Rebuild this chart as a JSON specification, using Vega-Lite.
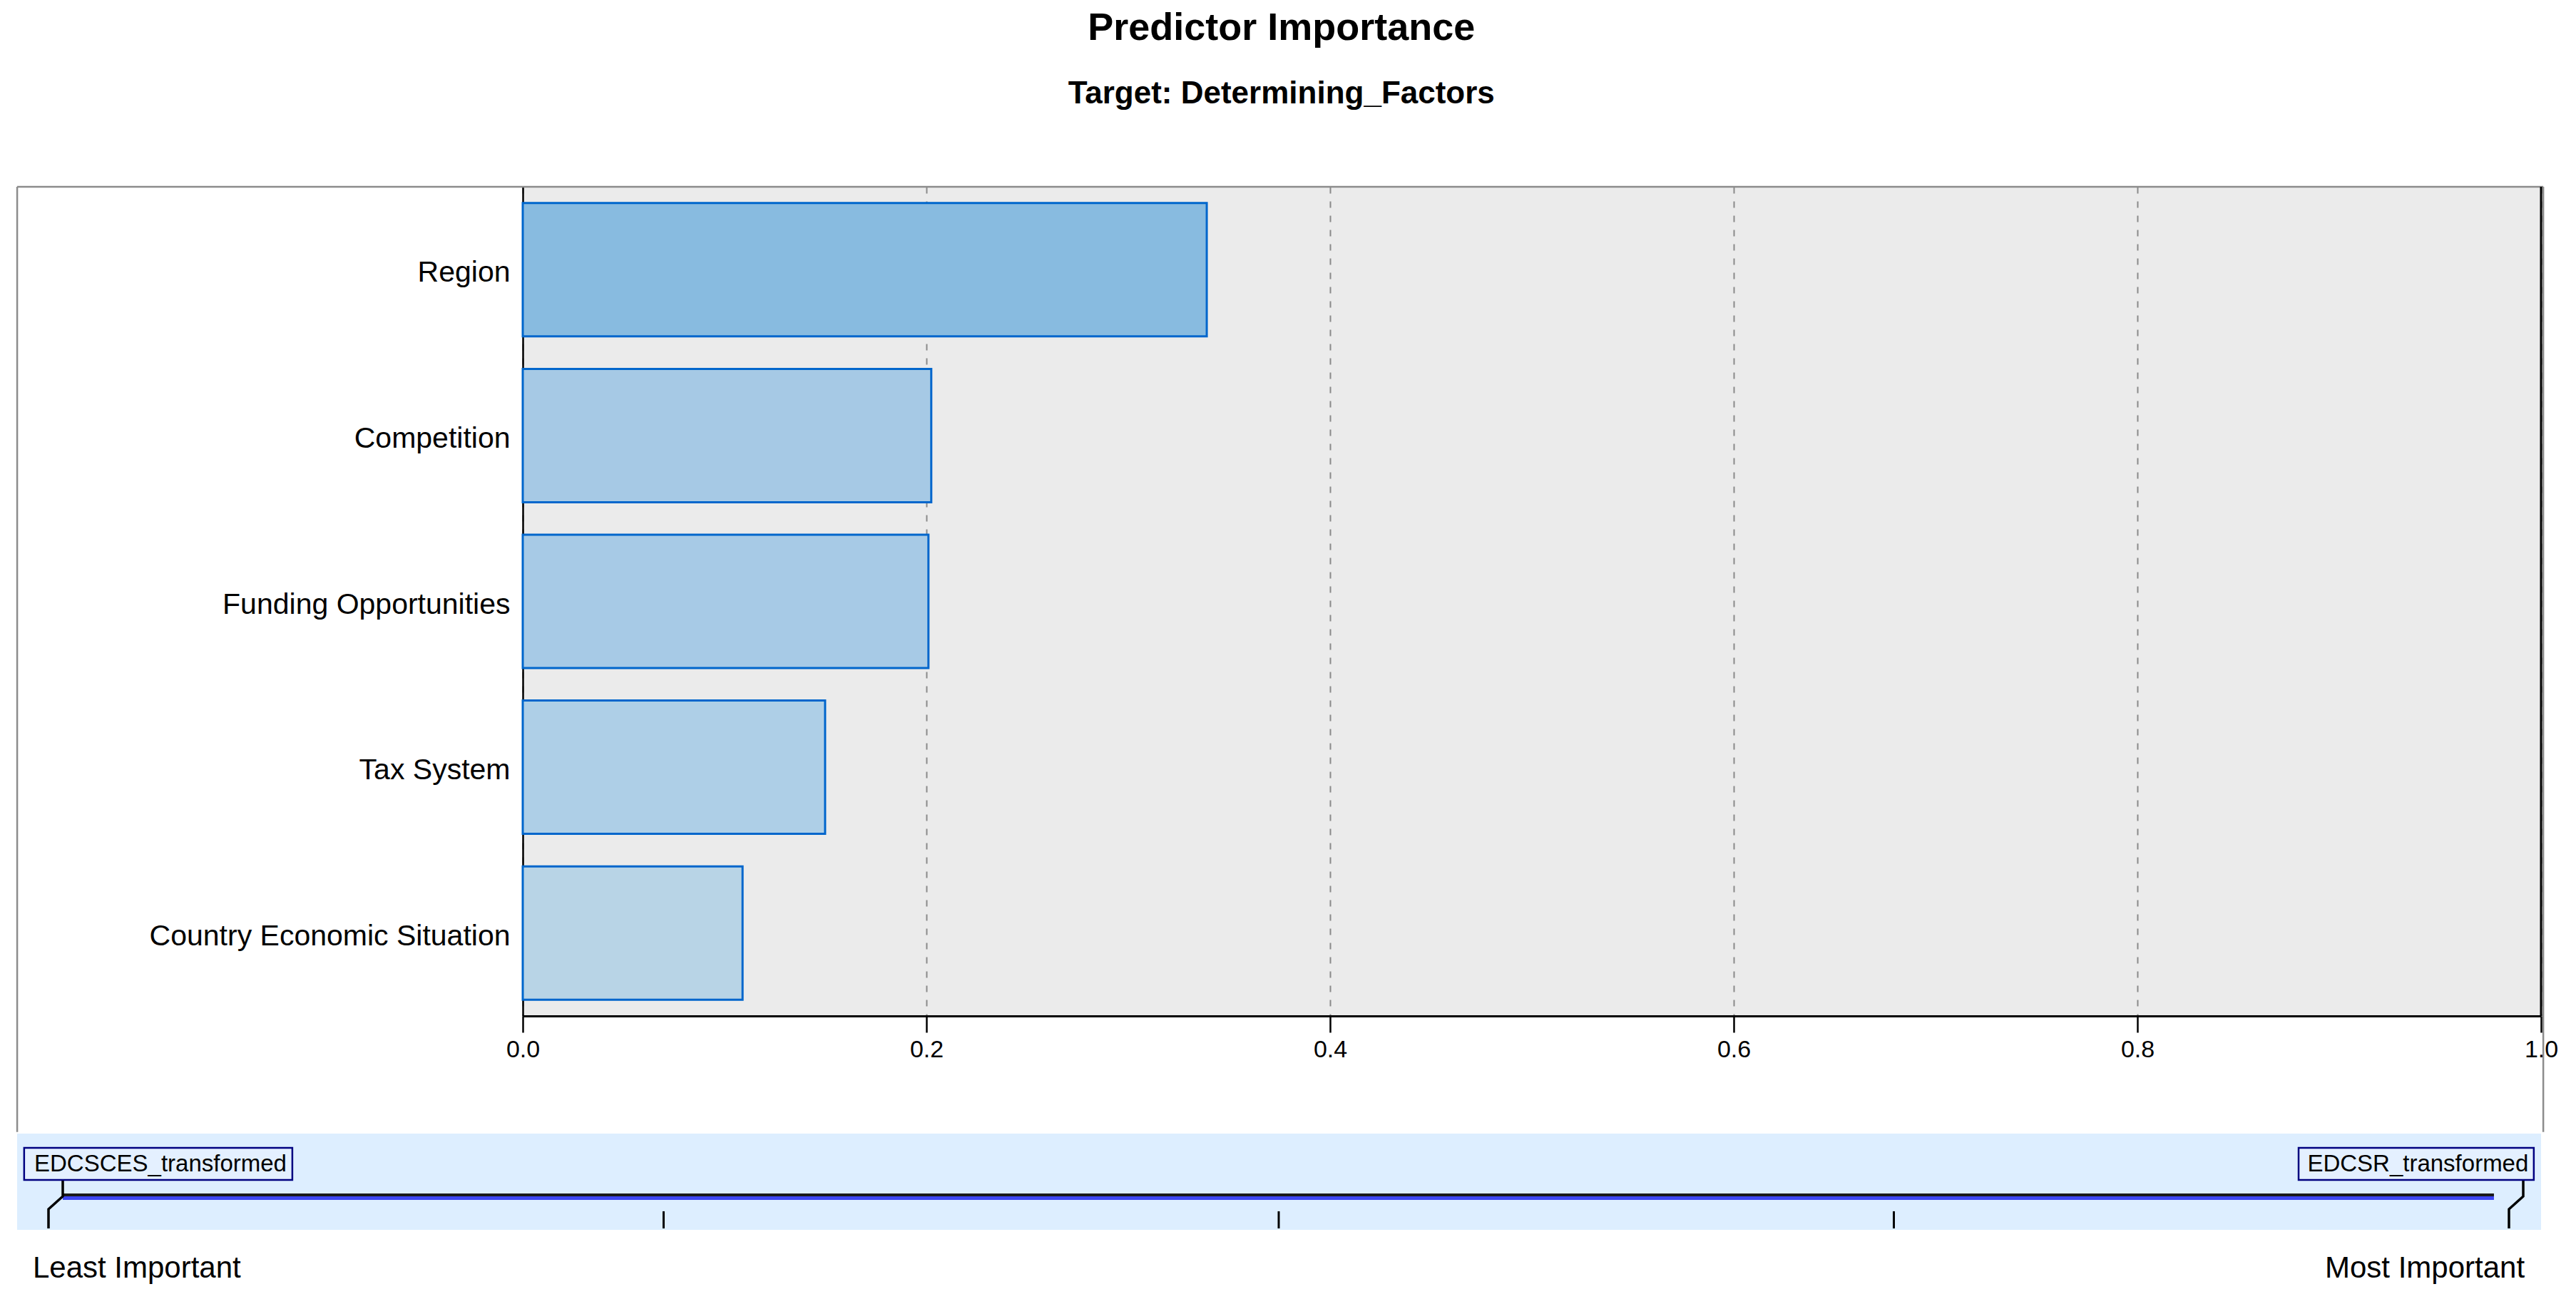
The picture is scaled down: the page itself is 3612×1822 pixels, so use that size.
{
  "$schema": "https://vega.github.io/schema/vega-lite/v6.json",
  "autosize": {"type": "pad"},
  "padding": {"left": 22, "top": 12, "right": 20, "bottom": 20},
  "background": "white",
  "config": {"font": "Liberation Sans", "view": {"stroke": null}},
  "title": {
    "text": "Predictor Importance",
    "subtitle": "Target: Determining_Factors",
    "anchor": "middle",
    "frame": "bounds",
    "dx": -8,
    "font": "Liberation Sans",
    "fontSize": 54,
    "fontWeight": "bold",
    "color": "black",
    "subtitleFont": "Liberation Sans",
    "subtitleFontSize": 44,
    "subtitleFontWeight": "bold",
    "subtitleColor": "black",
    "subtitlePadding": 43,
    "offset": 107
  },
  "spacing": 0,
  "datasets": {
    "importance": [
      {"predictor": "Region", "importance": 0.3389},
      {"predictor": "Competition", "importance": 0.2024},
      {"predictor": "Funding Opportunities", "importance": 0.2010},
      {"predictor": "Tax System", "importance": 0.1498},
      {"predictor": "Country Economic Situation", "importance": 0.1089}
    ],
    "frame": [
      {"x": -0.2505, "x2": 1.0011, "y": 1, "y2": 1},
      {"x": -0.2505, "x2": -0.2505, "y": 1, "y2": -0.14},
      {"x": 1.0011, "x2": 1.0011, "y": 1, "y2": -0.14}
    ],
    "connectors": [
      {"side": "L", "k": 0, "x": 0.0058, "y": 0.511},
      {"side": "L", "k": 1, "x": 0.0058, "y": 0.348},
      {"side": "L", "k": 2, "x": 0.0, "y": 0.215},
      {"side": "L", "k": 3, "x": 0.0, "y": 0.015},
      {"side": "R", "k": 0, "x": 1.0058, "y": 0.511},
      {"side": "R", "k": 1, "x": 1.0058, "y": 0.348},
      {"side": "R", "k": 2, "x": 1.0, "y": 0.215},
      {"side": "R", "k": 3, "x": 1.0, "y": 0.015}
    ],
    "boxes": [
      {"name": "EDCSCES_transformed", "x0": -0.0099, "x1": 0.0991, "tx": 0.0455},
      {"name": "EDCSR_transformed", "x0": 0.9145, "x1": 1.0101, "tx": 0.963}
    ]
  },
  "vconcat": [
    {
      "width": 2830,
      "height": 1163,
      "view": {"fill": "#EBEBEB", "stroke": null},
      "layer": [
        {
          "data": {"name": "frame"},
          "mark": {"type": "rule", "color": "#8c8c8c", "strokeWidth": 2.5},
          "encoding": {
            "x": {"field": "x", "type": "quantitative", "scale": {"domain": [0, 1], "nice": false, "zero": false},
              "axis": {"title": null, "values": [0, 0.2, 0.4, 0.6, 0.8, 1], "format": ".1f", "labelFontSize": 34, "labelColor": "black", "labelPadding": 7, "labelFlush": false, "tickSize": 23, "tickColor": "black", "tickWidth": 2.5, "domainColor": "black", "domainWidth": 3, "grid": true, "gridColor": "#8a8a8a", "gridWidth": 2, "gridDash": [9, 11]}},
            "x2": {"field": "x2"},
            "y": {"field": "y", "type": "quantitative", "scale": {"domain": [0, 1], "nice": false, "zero": false}, "axis": null},
            "y2": {"field": "y2"}
          }
        },
        {
          "data": {"name": "importance"},
          "mark": {"type": "bar", "stroke": "#0066CC", "strokeWidth": 3},
          "encoding": {
            "y": {"field": "predictor", "type": "nominal", "sort": "-x",
              "scale": {"paddingInner": 0.196, "paddingOuter": 0.098},
              "axis": {"title": null, "labelFontSize": 41, "labelColor": "black", "labelPadding": 18, "labelOffset": 5, "labelLimit": 1000, "ticks": false, "domain": true, "domainColor": "black", "domainWidth": 2.5, "grid": false}},
            "x": {"field": "importance", "type": "quantitative", "scale": {"domain": [0, 1], "nice": false, "zero": false},
              "axis": {"title": null, "values": [0, 0.2, 0.4, 0.6, 0.8, 1], "format": ".1f", "labelFontSize": 34, "labelColor": "black", "labelPadding": 7, "labelFlush": false, "tickSize": 23, "tickColor": "black", "tickWidth": 2.5, "domainColor": "black", "domainWidth": 3, "grid": true, "gridColor": "#8a8a8a", "gridWidth": 2, "gridDash": [9, 11]}},
            "color": {"field": "predictor", "type": "nominal", "legend": null,
              "scale": {"domain": ["Region", "Competition", "Funding Opportunities", "Tax System", "Country Economic Situation"],
                "range": ["#88BBE0", "#A6C9E5", "#A7CAE6", "#AECFE7", "#B8D4E6"]}}
          }
        },
        {
          "data": {"values": [{"edge": 1}]},
          "mark": {"type": "rule", "color": "black", "strokeWidth": 3},
          "encoding": {"x": {"field": "edge", "type": "quantitative"}}
        }
      ],
      "resolve": {"scale": {"y": "independent"}, "axis": {"y": "independent"}}
    },
    {
      "width": 2830,
      "height": 135,
      "view": {"fill": null, "stroke": null},
      "layer": [
        {
          "data": {"values": [{"from": -0.01275, "to": 1.01304}]},
          "mark": {"type": "rect", "color": "#DDEEFF"},
          "encoding": {
            "x": {"field": "from", "type": "quantitative", "scale": {"domain": [0, 1], "range": [-665, 2785], "nice": false, "zero": false}, "axis": null},
            "x2": {"field": "to"},
            "y": {"datum": 0, "type": "quantitative", "scale": {"domain": [0, 1], "nice": false, "zero": false}, "axis": null},
            "y2": {"datum": 1}
          }
        },
        {
          "data": {"values": [{"from": 0.0058, "to": 0.9939, "level": 0.363}]},
          "mark": {"type": "rule", "color": "#1a1a1a", "strokeWidth": 4},
          "encoding": {
            "x": {"field": "from", "type": "quantitative"},
            "x2": {"field": "to"},
            "y": {"field": "level", "type": "quantitative"}
          }
        },
        {
          "data": {"values": [{"from": 0.0058, "to": 0.9939, "level": 0.3296}]},
          "mark": {"type": "rule", "color": "#3d46f2", "strokeWidth": 5},
          "encoding": {
            "x": {"field": "from", "type": "quantitative"},
            "x2": {"field": "to"},
            "y": {"field": "level", "type": "quantitative"}
          }
        },
        {
          "data": {"values": [{"pos": 0.25}, {"pos": 0.5}, {"pos": 0.75}]},
          "mark": {"type": "rule", "color": "black", "strokeWidth": 3},
          "encoding": {
            "x": {"field": "pos", "type": "quantitative"},
            "y": {"datum": 0.193, "type": "quantitative"},
            "y2": {"datum": 0.015}
          }
        },
        {
          "data": {"name": "connectors"},
          "mark": {"type": "line", "color": "black", "strokeWidth": 3.5},
          "encoding": {
            "x": {"field": "x", "type": "quantitative"},
            "y": {"field": "y", "type": "quantitative"},
            "detail": {"field": "side", "type": "nominal"},
            "order": {"field": "k", "type": "quantitative"}
          }
        },
        {
          "data": {"name": "boxes"},
          "mark": {"type": "rect", "fill": "#E4F0FF", "stroke": "#000080", "strokeWidth": 2.5},
          "encoding": {
            "x": {"field": "x0", "type": "quantitative"},
            "x2": {"field": "x1"},
            "y": {"datum": 0.852, "type": "quantitative"},
            "y2": {"datum": 0.519}
          }
        },
        {
          "data": {"name": "boxes"},
          "mark": {"type": "text", "align": "center", "baseline": "alphabetic", "fontSize": 33, "color": "black"},
          "encoding": {
            "x": {"field": "tx", "type": "quantitative"},
            "y": {"datum": 0.607, "type": "quantitative"},
            "text": {"field": "name"}
          }
        },
        {
          "data": {"values": [{"label": "Least Important", "pos": -0.0064, "end": "start"}, {"label": "Most Important", "pos": 1.0064, "end": "end"}]},
          "mark": {"type": "text", "align": {"expr": "datum.end == 'start' ? 'left' : 'right'"}, "baseline": "alphabetic", "fontSize": 42, "color": "black"},
          "encoding": {
            "x": {"field": "pos", "type": "quantitative"},
            "y": {"datum": -0.496, "type": "quantitative"},
            "text": {"field": "label"}
          }
        }
      ]
    }
  ]
}
